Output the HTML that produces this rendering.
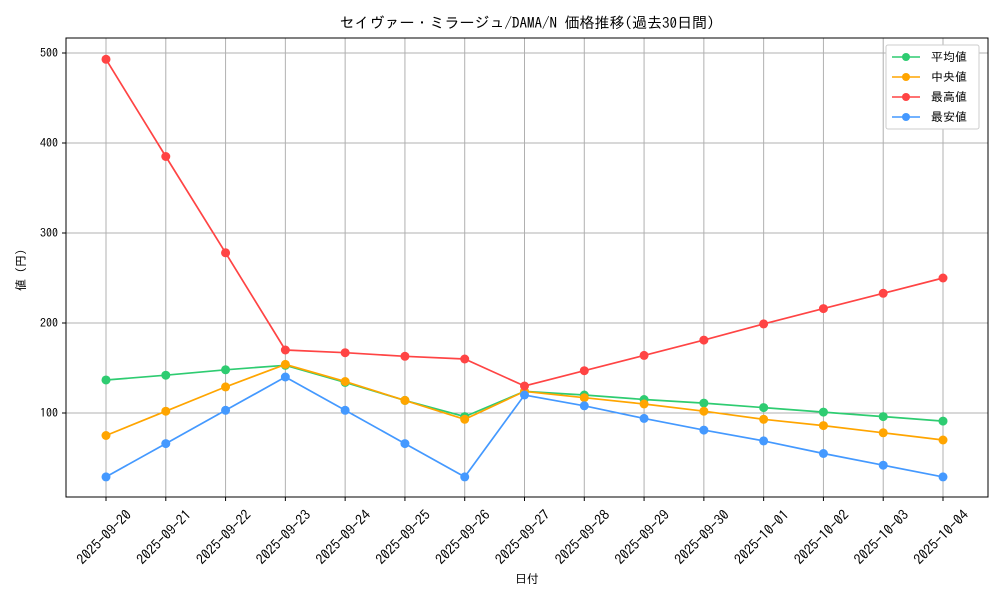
<!DOCTYPE html>
<html><head><meta charset="utf-8"><style>
body{margin:0;background:#fff}
svg text{font-family:"IPAGothic","Noto Sans CJK JP",sans-serif;fill:#000}
</style></head><body>
<svg width="1000" height="600" viewBox="0 0 1000 600" xmlns="http://www.w3.org/2000/svg">
<rect width="1000" height="600" fill="#fff"/>
<text x="527" y="28" font-size="15" text-anchor="middle">セイヴァー・ミラージュ/DAMA/N 価格推移(過去30日間)</text>
<g stroke="#b0b0b0" stroke-width="1">
<line x1="66" y1="413" x2="988" y2="413"/><line x1="66" y1="323" x2="988" y2="323"/><line x1="66" y1="233" x2="988" y2="233"/><line x1="66" y1="143" x2="988" y2="143"/><line x1="66" y1="53" x2="988" y2="53"/>
</g>
<g id="grid" stroke="#b0b0b0" stroke-width="1"></g>
<rect x="66" y="38" width="922" height="459" fill="none" stroke="#000" stroke-width="1"/>
<g font-size="12" text-anchor="end">
<text x="58" y="417">100</text><text x="58" y="327">200</text><text x="58" y="237">300</text><text x="58" y="147">400</text><text x="58" y="57">500</text>
</g>
<g stroke="#000"><line x1="62" y1="413" x2="66" y2="413"/><line x1="62" y1="323" x2="66" y2="323"/><line x1="62" y1="233" x2="66" y2="233"/><line x1="62" y1="143" x2="66" y2="143"/><line x1="62" y1="53" x2="66" y2="53"/></g>
<text x="25" y="270" font-size="12" text-anchor="middle" transform="rotate(-90 25 270)">値 (円)</text>
<text x="527" y="583" font-size="12" text-anchor="middle">日付</text>
<g id="xt" font-size="14"></g>
<g id="series"></g>
<g>
<rect x="886" y="45" width="93" height="84" fill="#fff" stroke="#ccc" rx="2"/>
<g font-size="12">
<line x1="892" y1="57" x2="920" y2="57" stroke="#2ecc71" stroke-width="1.5"/><circle cx="906" cy="57" r="4" fill="#2ecc71"/><text x="931" y="61">平均値</text>
<line x1="892" y1="77" x2="920" y2="77" stroke="#ffa500" stroke-width="1.5"/><circle cx="906" cy="77" r="4" fill="#ffa500"/><text x="931" y="81">中央値</text>
<line x1="892" y1="97" x2="920" y2="97" stroke="#ff4444" stroke-width="1.5"/><circle cx="906" cy="97" r="4" fill="#ff4444"/><text x="931" y="101">最高値</text>
<line x1="892" y1="117" x2="920" y2="117" stroke="#4499ff" stroke-width="1.5"/><circle cx="906" cy="117" r="4" fill="#4499ff"/><text x="931" y="121">最安値</text>
</g></g>
</svg>
<script>
const ns="http://www.w3.org/2000/svg";
const dates=["2025-09-20","2025-09-21","2025-09-22","2025-09-23","2025-09-24","2025-09-25","2025-09-26","2025-09-27","2025-09-28","2025-09-29","2025-09-30","2025-10-01","2025-10-02","2025-10-03","2025-10-04"];
const X=i=>106+i*(943-106)/14, Y=v=>413-(v-100)*0.9;
const g=document.getElementById("grid"),xt=document.getElementById("xt"),s=document.getElementById("series");
dates.forEach((d,i)=>{const x=X(i);
let l=document.createElementNS(ns,"line");l.setAttribute("x1",x);l.setAttribute("x2",x);l.setAttribute("y1",38);l.setAttribute("y2",497);g.appendChild(l);
let t=document.createElementNS(ns,"line");t.setAttribute("x1",x);t.setAttribute("x2",x);t.setAttribute("y1",497);t.setAttribute("y2",501);t.setAttribute("stroke","#000");xt.appendChild(t);
const cx=x-2,cy=537;
let tx=document.createElementNS(ns,"text");tx.setAttribute("x",cx);tx.setAttribute("y",cy+5);tx.setAttribute("text-anchor","middle");tx.setAttribute("transform",`rotate(-45 ${cx} ${cy})`);tx.textContent=d;xt.appendChild(tx);});
const data=[
["#2ecc71",[136.7,142,148,153,134,114,96,124,120,115,111,106,101,96,91]],
["#ffa500",[75,102,129,154,135,114,93,124,117,110,102,93,86,78,70]],
["#ff4444",[493,385,278,170,167,163,160,130,147,164,181,199,216,233,250]],
["#4499ff",[29,66,103,140,103,66,29,120,108,94,81,69,55,42,29]]];
data.forEach(([c,v])=>{let p=document.createElementNS(ns,"polyline");p.setAttribute("points",v.map((y,i)=>X(i)+","+Y(y)).join(" "));p.setAttribute("fill","none");p.setAttribute("stroke",c);p.setAttribute("stroke-width","1.7");s.appendChild(p);
v.forEach((y,i)=>{let ci=document.createElementNS(ns,"circle");ci.setAttribute("cx",X(i));ci.setAttribute("cy",Y(y));ci.setAttribute("r",4.5);ci.setAttribute("fill",c);s.appendChild(ci);});});
</script>
</body></html>
